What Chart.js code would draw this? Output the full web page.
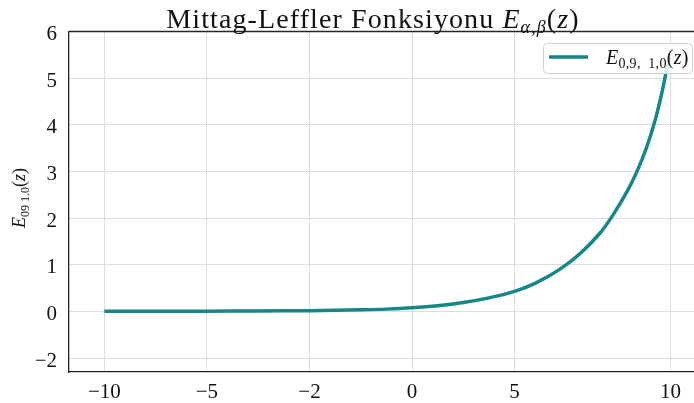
<!DOCTYPE html>
<html>
<head>
<meta charset="utf-8">
<script src="https://cdn.jsdelivr.net/npm/chart.js@4"></script>
<style>
  html, body { margin: 0; padding: 0; background: #fff; }
  #wrap { position: relative; width: 694px; height: 403px; }
</style>
</head>
<body>
<div id="wrap"><canvas id="chart"></canvas></div>
<script>
// axis positions of the ticks and the labels printed at them
const xTickPos = [0, 1, 2, 3, 4, 5.52];
const xTickLabels = ["−10", "−5", "−2", "0", "5", "10"];
const yTickPos = [-1, 0, 1, 2, 3, 4, 5, 6];
const yTickLabels = ["−2", "0", "1", "2", "3", "4", "5", "6"];

// curve (x in axis positions)
const curveX = [0, 0.5, 1, 1.5, 2, 2.5, 2.75, 3, 3.25, 3.5, 3.75, 4, 4.2, 4.44, 4.64, 4.834, 4.964, 5.095, 5.192, 5.29, 5.371, 5.436, 5.475, 5.5];
const curveY = [0, 0.002, 0.005, 0.008, 0.015, 0.033, 0.048, 0.075, 0.12, 0.19, 0.29, 0.43, 0.6, 0.9, 1.24, 1.68, 2.08, 2.56, 2.99, 3.53, 4.1, 4.68, 5.1, 5.38];

const serif = "'Liberation Serif', 'DejaVu Serif', serif";
const teal = "#168686";

// draws text parts in a row: [text, size, italic, dy]
function drawParts(ctx, parts, x, y, align, spacing) {
  ctx.letterSpacing = (spacing || 0) + "px";
  let total = 0;
  parts.forEach((p) => {
    ctx.font = `${p[2] ? "italic " : ""}${p[1]}px ${serif}`;
    total += ctx.measureText(p[0]).width;
  });
  let cx = align === "center" ? x - total / 2 : x;
  parts.forEach((p) => {
    ctx.font = `${p[2] ? "italic " : ""}${p[1]}px ${serif}`;
    ctx.fillText(p[0], cx, y + (p[3] || 0));
    cx += ctx.measureText(p[0]).width;
  });
  ctx.letterSpacing = "0px";
}

const decorations = {
  id: "decorations",
  afterDraw(chart) {
    const ctx = chart.ctx;
    const area = chart.chartArea;
    ctx.save();

    // top spine
    ctx.strokeStyle = "#262626";
    ctx.lineWidth = 1.3;
    ctx.beginPath();
    ctx.moveTo(area.left, area.top);
    ctx.lineTo(area.right, area.top);
    ctx.stroke();

    ctx.fillStyle = "#111";
    ctx.textBaseline = "alphabetic";

    // title
    drawParts(ctx, [
      ["Mittag-Leffler Fonksiyonu ", 28, false],
      ["E", 28, true],
      ["α,β", 18, true, 5],
      ["(", 28, false],
      ["z", 28, true],
      [")", 28, false],
    ], 373, 28, "center", 1.1);

    // y axis label
    ctx.save();
    ctx.translate(25, 198);
    ctx.rotate(-Math.PI / 2);
    drawParts(ctx, [
      ["E", 18, true],
      ["09 1.0", 12, false, 4],
      ["(", 18, false],
      ["z", 18, true],
      [")", 18, false],
    ], 0, 0, "center");
    ctx.restore();

    // legend
    const lx = 543, ly = 43, lw = 149, lh = 30;
    ctx.fillStyle = "rgba(255,255,255,0.85)";
    ctx.strokeStyle = "#d0d0d0";
    ctx.lineWidth = 1;
    ctx.beginPath();
    ctx.roundRect(lx + 0.5, ly + 0.5, lw, lh, 4);
    ctx.fill();
    ctx.stroke();
    ctx.strokeStyle = teal;
    ctx.lineWidth = 3.5;
    ctx.beginPath();
    ctx.moveTo(549, 57);
    ctx.lineTo(588, 57);
    ctx.stroke();
    ctx.fillStyle = "#111";
    drawParts(ctx, [
      ["E", 20, true],
      ["0,9,  1,0", 14, false, 4],
      ["(", 20, false],
      ["z", 20, true],
      [")", 20, false],
    ], 606, 64, "left", 0.3);

    ctx.restore();
  },
};

new Chart(document.getElementById("chart"), {
  type: "line",
  data: {
    datasets: [
      {
        label: "E",
        data: curveX.map((x, i) => ({ x, y: curveY[i] })),
        borderColor: teal,
        borderWidth: 3.5,
        pointRadius: 0,
        tension: 0.35,
        fill: false,
      },
    ],
  },
  options: {
    responsive: true,
    maintainAspectRatio: false,
    animation: false,
    devicePixelRatio: 1,
    layout: { padding: { left: 0, right: 0, top: 31.5, bottom: 0 } },
    plugins: {
      legend: { display: false },
      tooltip: { enabled: false },
      title: { display: false },
    },
    scales: {
      x: {
        type: "linear",
        min: -0.345,
        max: 5.75,
        afterBuildTicks: (scale) => {
          scale.ticks = xTickPos.map((v) => ({ value: v }));
        },
        afterFit: (scale) => {
          scale.height = 31;
        },
        ticks: {
          autoSkip: false,
          maxRotation: 0,
          padding: 8,
          color: "#111",
          font: { family: serif, size: 21 },
          callback: (v) => xTickLabels[xTickPos.indexOf(v)],
        },
        grid: { color: "#dcdcdc", lineWidth: 1, drawTicks: false },
        border: { color: "#262626", width: 1.3 },
      },
      y: {
        type: "linear",
        min: -1.3,
        max: 6,
        afterBuildTicks: (scale) => {
          scale.ticks = yTickPos.map((v) => ({ value: v }));
        },
        afterFit: (scale) => {
          scale.width = 69;
        },
        ticks: {
          autoSkip: false,
          padding: 12,
          labelOffset: 3,
          color: "#111",
          font: { family: serif, size: 21 },
          callback: (v) => yTickLabels[yTickPos.indexOf(v)],
        },
        grid: { color: "#dcdcdc", lineWidth: 1, drawTicks: false },
        border: { color: "#262626", width: 1.3 },
      },
    },
  },
  plugins: [decorations],
});
</script>
</body>
</html>
